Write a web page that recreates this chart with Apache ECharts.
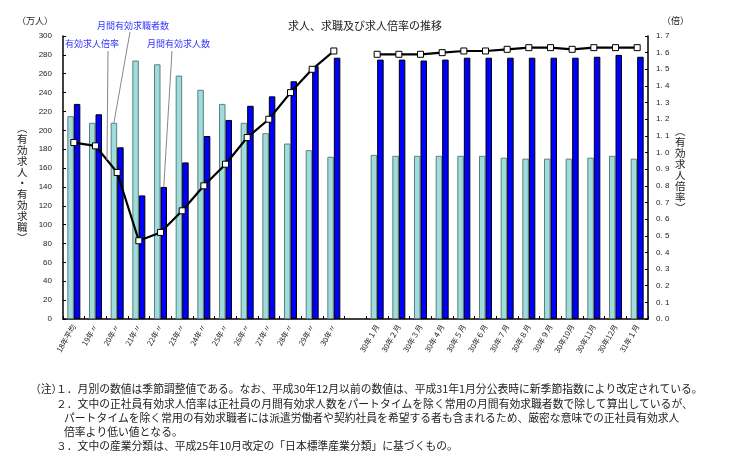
<!DOCTYPE html>
<html><head><meta charset="utf-8">
<script src="https://cdn.jsdelivr.net/npm/echarts@6/dist/echarts.min.js"></script>
<style>html,body{margin:0;padding:0;background:#fff}#c{width:733px;height:461px}</style>
</head><body><div id="c"></div>
<script>
var categories = ['18年平均','19年〃','20年〃','21年〃','22年〃','23年〃','24年〃','25年〃','26年〃','27年〃','28年〃','29年〃','30年〃','',
  '30年１月','30年２月','30年３月','30年４月','30年５月','30年６月','30年７月','30年８月','30年９月','30年10月','30年11月','30年12月','31年１月'];
var seekers = [215,208,208,274,270,258,243,228,208,197,186,179,172,null,
  174,173,173,173,173,173,171,170,170,170,171,173,170];
var openings = [228,217,182,131,140,166,194,211,226,236,252,268,277,null,
  275,275,274,275,277,277,277,277,277,277,278,280,278];
var ratio = [1.06,1.04,0.88,0.47,0.52,0.65,0.80,0.93,1.09,1.20,1.36,1.50,1.61,null,
  1.59,1.59,1.59,1.60,1.61,1.61,1.62,1.63,1.63,1.62,1.63,1.63,1.63];
var notes = [
  '１．月別の数値は季節調整値である。なお、平成30年12月以前の数値は、平成31年1月分公表時に新季節指数により改定されている。',
  '２．文中の正社員有効求人倍率は正社員の月間有効求人数をパートタイムを除く常用の月間有効求職者数で除して算出しているが、',
  'パートタイムを除く常用の有効求職者には派遣労働者や契約社員を希望する者も含まれるため、厳密な意味での正社員有効求人',
  '倍率より低い値となる。',
  '３．文中の産業分類は、平成25年10月改定の「日本標準産業分類」に基づくもの。'
];
var FONT = '"Noto Sans CJK JP", sans-serif';
var NUMFONT = '"Liberation Sans", Arial, sans-serif';
var chart = echarts.init(document.getElementById('c'));
var axisLine = {show:true, lineStyle:{color:'#000', width:1.5}};
chart.setOption({
  animation:false,
  backgroundColor:'#fff',
  textStyle:{fontFamily:FONT},
  grid:{left:63, right:85, top:36, bottom:142},
  xAxis:{type:'category', data:categories, boundaryGap:true,
    axisLine:axisLine,
    axisTick:{show:true, inside:true, length:3, lineStyle:{color:'#000'}},
    axisLabel:{interval:0, rotate:60, fontSize:7.5, color:'#222', margin:6, fontFamily:FONT}},
  yAxis:[
    {type:'value', min:0, max:300, interval:20, splitLine:{show:false},
     axisLine:axisLine, axisTick:{show:true, inside:true, length:3, lineStyle:{color:'#000'}},
     axisLabel:{fontSize:8, color:'#222', margin:11, fontFamily:NUMFONT}},
    {type:'value', min:0, max:1.7, interval:0.1, splitLine:{show:false}, position:'right',
     axisLine:axisLine, axisTick:{show:true, inside:true, length:3, lineStyle:{color:'#000'}},
     axisLabel:{fontSize:8, color:'#222', margin:8, fontFamily:NUMFONT,
       formatter:function(v){return v.toFixed(1).replace('.', '. ');}}}
  ],
  series:[
    {name:'月間有効求職者数', type:'bar', data:seekers, barWidth:6.5, barGap:'0%',
     itemStyle:{color:'#9FDCDC', borderColor:'#5f7f7f', borderWidth:1}},
    {name:'月間有効求人数', type:'bar', data:openings, barWidth:6.5, barGap:'0%',
     itemStyle:{color:'#0000FF', borderColor:'#000', borderWidth:1}},
    {name:'有効求人倍率', type:'line', yAxisIndex:1, data:ratio, connectNulls:false, z:5,
     symbol:'rect', symbolSize:6, showSymbol:true,
     lineStyle:{color:'#000', width:2.2},
     itemStyle:{color:'#fff', borderColor:'#000', borderWidth:1}}
  ]
});

var pSeek20 = chart.convertToPixel({xAxisIndex:0, yAxisIndex:0}, [2, seekers[2]]); pSeek20[0] -= 3.25;
var pOpen22 = chart.convertToPixel({xAxisIndex:0, yAxisIndex:0}, [4, openings[4]]); pOpen22[0] += 3.25;
var pR19 = chart.convertToPixel({xAxisIndex:0, yAxisIndex:1}, [1, ratio[1]]);
var pR20 = chart.convertToPixel({xAxisIndex:0, yAxisIndex:1}, [2, ratio[2]]);
var rx = 107, rt = (rx - pR19[0])/(pR20[0]-pR19[0]);
var pRatioMid = [rx, pR19[1] + rt*(pR20[1]-pR19[1])];

var g = [
  {type:'text', left:288, top:20, style:{text:'求人、求職及び求人倍率の推移', font:'11px '+FONT, fill:'#222'}},
  {type:'text', left:17, top:16, style:{text:'（万人）', font:'9px '+FONT, fill:'#222'}},
  {type:'text', left:662, top:16, style:{text:'（倍）', font:'9px '+FONT, fill:'#222'}},
  {type:'text', left:17, top:123, style:{text:'︵\n有\n効\n求\n人\n・\n有\n効\n求\n職\n︶', font:'10.5px '+FONT, fill:'#222', lineHeight:11}},
  {type:'text', left:675, top:126, style:{text:'︵\n有\n効\n求\n人\n倍\n率\n︶', font:'10.5px '+FONT, fill:'#222', lineHeight:11}},
  {type:'text', left:97, top:21, style:{text:'月間有効求職者数', font:'9px '+FONT, fill:'#3333ff'}},
  {type:'text', left:65, top:39, style:{text:'有効求人倍率', font:'9px '+FONT, fill:'#3333ff'}},
  {type:'text', left:147, top:39, style:{text:'月間有効求人数', font:'9px '+FONT, fill:'#3333ff'}},
  {type:'line', shape:{x1:130, y1:32, x2:pSeek20[0], y2:pSeek20[1]}, style:{stroke:'#888', lineWidth:1}, z:10},
  {type:'line', shape:{x1:108, y1:51, x2:pRatioMid[0], y2:pRatioMid[1]}, style:{stroke:'#888', lineWidth:1}, z:10},
  {type:'line', shape:{x1:172, y1:51, x2:pOpen22[0], y2:pOpen22[1]}, style:{stroke:'#888', lineWidth:1}, z:10},
  {type:'text', left:30, top:384, style:{text:'（注）', font:'10.8px '+FONT, fill:'#222'}}
];
var noteTops = [384, 399, 413, 427, 441];
var noteLefts = [56, 56, 64, 64, 56];
for (var i=0;i<notes.length;i++){
  g.push({type:'text', left:noteLefts[i], top:noteTops[i], style:{text:notes[i], font:'10.8px '+FONT, fill:'#222'}});
}
chart.setOption({graphic:g});
</script></body></html>
